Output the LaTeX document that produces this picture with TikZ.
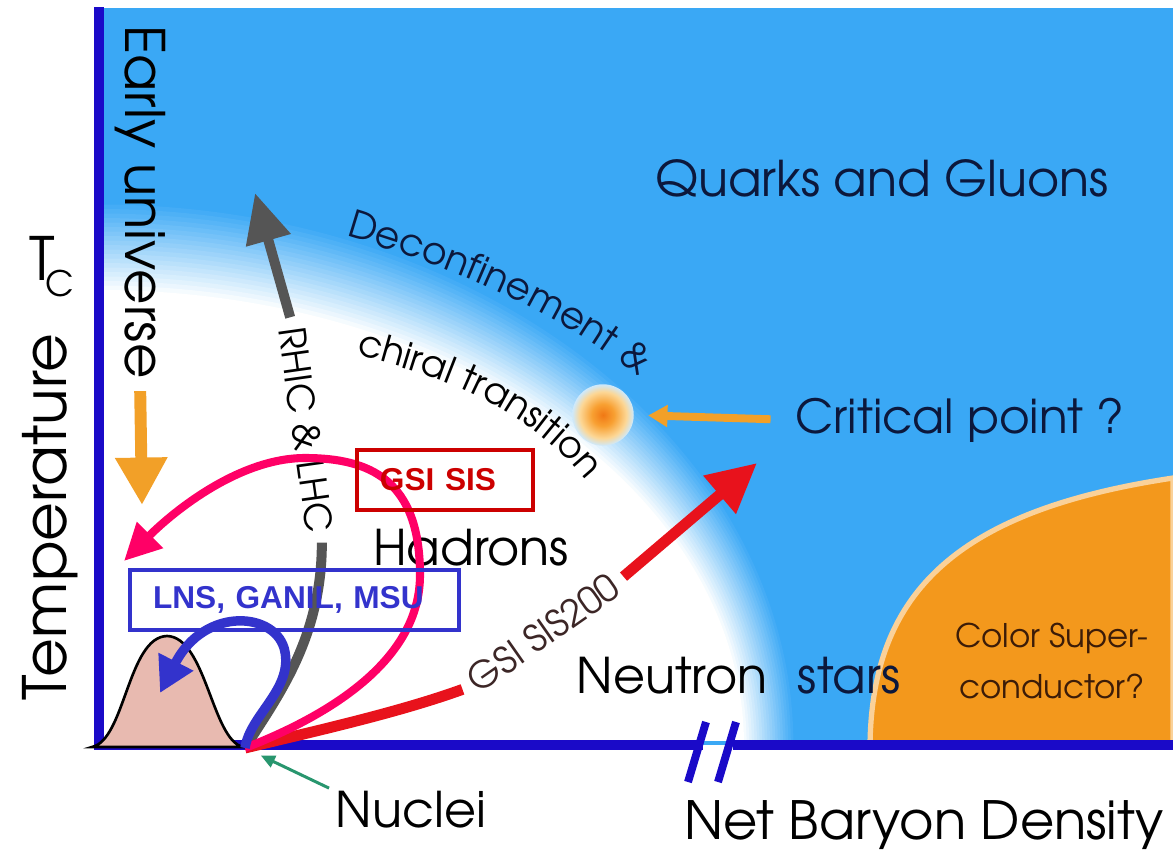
\documentclass[tikz,border=0pt]{standalone}
\usepackage{fontspec}
\setmainfont{texgyreadventor-regular.otf}[BoldFont=texgyreadventor-bold.otf]
\newfontfamily\boxfont{Liberation Sans}
\usetikzlibrary{arrows.meta,decorations.text,positioning}

\definecolor{qgpblue}{RGB}{58,168,245}
\definecolor{axisblue}{RGB}{26,10,200}
\definecolor{csorange}{RGB}{243,152,28}
\definecolor{moundpink}{RGB}{232,186,176}
\definecolor{lnsblue}{RGB}{51,51,204}
\definecolor{gsired}{RGB}{204,0,0}
\definecolor{loopmagenta}{RGB}{255,0,102}
\definecolor{sisred}{RGB}{232,18,28}
\definecolor{rhicgrey}{RGB}{85,85,85}
\definecolor{uniorange}{RGB}{242,160,40}
\definecolor{nucgreen}{RGB}{40,150,110}
\definecolor{textnavy}{RGB}{12,24,60}
\definecolor{cstext}{RGB}{60,28,8}
\definecolor{sistext}{RGB}{60,38,38}
\definecolor{cpcore}{RGB}{240,120,20}
\definecolor{cpmid}{RGB}{248,160,50}
\definecolor{cpedge}{RGB}{252,215,150}

\pgfdeclareradialshading{cpglow}{\pgfpoint{0bp}{0bp}}{color(0bp)=(cpcore); color(9bp)=(cpmid); color(19bp)=(cpedge); color(25bp)=(qgpblue!25!white); color(50bp)=(qgpblue!25!white)}

\begin{document}
\begin{tikzpicture}[x=0.02cm, y=-0.02cm,
    big label/.style={inner sep=0pt, font=\fontsize{28}{30}\selectfont},
    small label/.style={inner sep=0pt, text=cstext, font=\fontsize{18.5}{20}\selectfont},
    slant label/.style={inner sep=0pt, outer sep=6pt, font=\fontsize{21}{22}\selectfont},
    facility box/.style={draw, line width=2.3pt, inner xsep=13pt, inner ysep=0pt,
        minimum height=34pt, align=left, font=\boxfont\bfseries\fontsize{18}{20}\selectfont},
    axis line/.style={axisblue, line width=5.7pt},
    rhic arrow/.style={rhicgrey, line width=5.7pt},
    sis arrow/.style={sisred, line width=6.2pt},
    pink arrow/.style={loopmagenta, line width=4.6pt, -{Triangle[length=21pt,width=20pt]}},
    loop arrow/.style={lnsblue, line width=5.4pt, -{Triangle[length=20pt,width=21pt]}},
  ]
  \useasboundingbox (0,0) rectangle (1173,856);
  \fill[white] (0,0) rectangle (1173,856);

  \fill[qgpblue] (99,8) rectangle (1173,745);
  \begin{scope}
    \clip (104,8) rectangle (1173,740);
    \foreach \k in {0,...,20} {
      \pgfmathsetmacro\pct{100-\k*5}
      \pgfmathsetmacro\rx{697-2.6*\k}
      \pgfmathsetmacro\ry{545-4.5*\k}
      \fill[qgpblue!\pct!white] (99,745) ellipse [x radius=\rx, y radius=\ry];
    }
  \end{scope}

  \filldraw[fill=csorange, draw=csorange!45!white, line width=3pt]
    (870,745) .. controls (872,590) and (960,510) .. (1173,478) -- (1173,745) -- cycle;

  \node[circle, minimum size=35pt, inner sep=0pt, shading=cpglow] (cp) at (603,415) {};

  \coordinate (top) at (99,7);
  \coordinate (corner) at (99,745);
  \coordinate (brkL) at (703,745);
  \coordinate (brkR) at (733,745);
  \coordinate (far) at (1173,745);
  \coordinate (nuc) at (245,748);
  \draw[axis line] (top) -- (corner) -- (brkL);
  \draw[axis line] (brkR) -- (far);
  \draw[axisblue, line width=4.5pt] (688,782) -- (706,722);
  \draw[axisblue, line width=4.5pt] (718,782) -- (736,722);

  \filldraw[fill=moundpink, draw=black, line width=1.5pt]
    (92,747) .. controls (125,740) and (128,637) .. (167,636)
    .. controls (206,637) and (212,740) .. (243,747) -- cycle;

  \node[inner sep=0pt, rotate=90, font=\fontsize{34}{36}\selectfont] (temperature) at (50,517) {Temperature};
  \node[inner sep=0pt, font=\fontsize{34}{36}\selectfont] (tcT) at (42,258) {T};
  \node[inner sep=0pt, font=\fontsize{20}{22}\selectfont] (tcC) at (60,284) {C};
  \node[inner sep=0pt, rotate=-90, font=\fontsize{31}{33}\selectfont] (early) at (140,202) {Early universe};
  \node[big label, text=textnavy] (quarks) at (882,178) {Quarks and Gluons};
  \node[big label, text=textnavy, font=\fontsize{26.7}{28}\selectfont] (critical) at (960,420) {Critical point ?};
  \node[big label] (hadrons) at (471,548) {Hadrons};
  \node[big label] (neutron) at (672,676) {Neutron};
  \node[big label, text=textnavy, base right=17pt of neutron] (stars) {stars};
  \node[small label] (colorsup) at (1052,638) {Color Super-};
  \node[small label, anchor=base] (conductor) at ([yshift=-29.5pt]colorsup.base) {conductor?};
  \node[big label] (nuclei) at (411,810) {Nuclei};
  \node[big label, font=\fontsize{30}{32}\selectfont] (netbaryon) at (924,825) {Net Baryon Density};
  \node[slant label, rotate=35, text=sistext] (sis200) at (543,633) {GSI SIS200};
  \node[slant label, rotate=-82] (rhic) at (306,430) {RHIC \& LHC};

  \path[decorate, decoration={text along path,
      text={|\color{textnavy}\fontsize{21.5}{22}\selectfont|Deconfinement {\&}}}]
    (346,236) .. controls (460,270) and (570,315) .. (660,395);
  \path[decorate, decoration={text along path,
      text={|\fontsize{21}{22}\selectfont|chiral transition}}]
    (356,355) .. controls (450,378) and (540,412) .. (600,500);

  \coordinate (rhictip) at (255,193);
  \coordinate (sistip) at (757,463);
  \coordinate (pinktip) at (124,561);
  \coordinate (looptip) at (160,693);
  \coordinate (cool) at (142,505);

  \draw[uniorange, line width=6.8pt, -{Triangle[length=27pt,width=28pt]}, shorten <=7pt] (early.east) -- (cool);
  \draw[uniorange, line width=4.5pt, -{Triangle[length=11pt,width=12pt]}, shorten <=14pt, shorten >=8pt] (critical.west) -- (cp.east);
  \draw[nucgreen, line width=1.7pt, -{Triangle[length=8pt,width=7pt]}, shorten <=4pt, shorten >=10pt] (nuclei.north west) -- (nuc);

  \draw[rhic arrow] (nuc) .. controls (275,700) and (322,640) .. (rhic.east);
  \draw[rhic arrow, -{Triangle[length=28pt,width=25pt]}] (rhic.west) -- (rhictip);
  \draw[sis arrow] (nuc) .. controls (320,730) and (400,712) .. (sis200.west);
  \draw[sis arrow, -{Triangle[length=28pt,width=27pt]}] (sis200.east) -- (sistip);
  \draw[pink arrow] (nuc) .. controls (330,715) and (420,660) .. (420,575)
    .. controls (420,480) and (370,458) .. (305,458)
    .. controls (240,458) and (175,510) .. (pinktip);
  \draw[loop arrow] (nuc) .. controls (250,715) and (292,690) .. (285,652)
    .. controls (278,612) and (205,605) .. (looptip);

  \node[facility box, gsired, text width=74pt] (gsisis) at (445,480) {GSI SIS};
  \node[facility box, lnsblue, text width=161pt] (lns) at (294.5,600) {LNS, GANIL, MSU};
\end{tikzpicture}
\end{document}
